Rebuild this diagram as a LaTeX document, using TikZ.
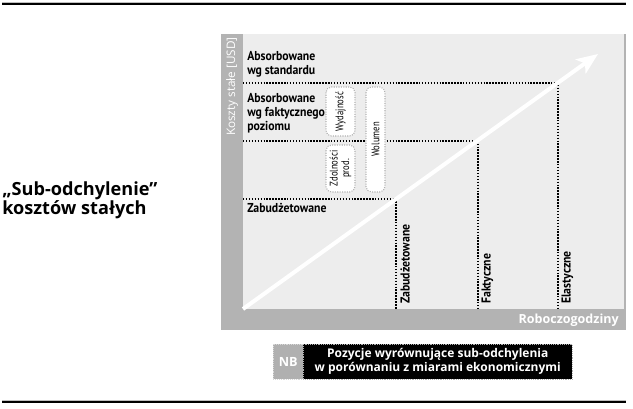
\documentclass[tikz,border=0pt]{standalone}
\usepackage{fontspec}
\setmainfont{Open Sans}
\newfontfamily\cond[FakeStretch=0.91]{PT Sans}
\newfontfamily\condn[FakeStretch=0.78]{PT Sans}
\usetikzlibrary{arrows.meta}
\definecolor{panel}{HTML}{EDEDED}
\definecolor{strip}{HTML}{B3B3B3}
\definecolor{nbgray}{HTML}{B0B0B0}
\begin{document}
\begin{tikzpicture}[x=0.75pt,y=-0.75pt,
  lbl/.style={font=\cond\bfseries\fontsize{9.7}{10.5}\selectfont, align=left, inner sep=0, anchor=north west},
  vlbl/.style={font=\cond\bfseries\fontsize{9.7}{10}\selectfont, rotate=90, anchor=west, inner sep=0},
  subbox/.style={draw=gray!60, densely dotted, line width=0.8pt, fill=white, rounded corners=4pt, rotate=90,
    font=\condn\fontsize{8.3}{8.8}\selectfont, align=center, inner sep=0},
  dotline/.style={line width=1.1pt, dash pattern=on 1.1pt off 1.1pt},
  rule/.style={line width=1.5pt, black}
]
\useasboundingbox (0,0) rectangle (633,409);
% rules
\coordinate (r1a) at (2,4.5); \coordinate (r1b) at (626,4.5);
\coordinate (r2a) at (2,402); \coordinate (r2b) at (626,402);
\draw[gray!50, line width=0.6pt] ([yshift=1.5pt]r1a) -- ([yshift=1.5pt]r1b);
\draw[rule] (r1a) -- (r1b);
\draw[gray!50, line width=0.6pt] ([yshift=1.5pt]r2a) -- ([yshift=1.5pt]r2b);
\draw[rule] (r2a) -- (r2b);
% chart background
\fill[strip] (221,34) rectangle (626,330);
\fill[panel] (243,34) rectangle (624,309);
% coordinates
\coordinate (o) at (243,309);
\coordinate (tip) at (598,54);
\coordinate (c1) at (396,199); \coordinate (l1) at (243,199); \coordinate (b1) at (396,309);
\coordinate (c2) at (478,141); \coordinate (l2) at (243,141); \coordinate (b2) at (478,309);
\coordinate (c3) at (558,83);  \coordinate (l3) at (243,83);  \coordinate (b3) at (558,309);
\draw[dotline] (l1) -- (c1) -- (b1);
\draw[dotline] (l2) -- (c2) -- (b2);
\draw[dotline] (l3) -- (c3) -- (b3);
% arrow
\draw[white, line width=3pt, -{Stealth[length=16pt,width=13pt,inset=4pt]}] (o) -- (tip);
% axis labels
\node (ylab) [rotate=90, anchor=east, inner sep=0, text=white, font=\fontsize{8.8}{9}\selectfont] at (232,37) {Koszty stałe [USD]};
\node (xlab) [anchor=east, inner sep=0, text=white, font=\bfseries\fontsize{9.4}{10}\selectfont] at (619,320) {Roboczogodziny};
% level labels
\node (a1) [lbl] at (247,51) {Absorbowane\\wg standardu};
\node (a2) [lbl] at (247,93) {Absorbowane\\wg faktycznego\\poziomu};
\node (a3) [lbl] at (247,203) {Zabudżetowane};
% sub boxes
\node (wyd) [subbox, minimum width=36.75pt, minimum height=21.75pt] at (340.5,111.5) {Wydajność};
\node (zdo) [subbox, minimum width=35.25pt, minimum height=21.75pt] at (340.5,168.5) {Zdolności\\prod.};
\node (wol) [subbox, minimum width=78.75pt, minimum height=14.25pt] at (375.5,139.5) {Wolumen};
% vertical labels
\node (v1) [vlbl] at (405,304) {Zabudżetowane};
\node (v2) [vlbl] at (487.5,304) {Faktyczne};
\node (v3) [vlbl] at (567.5,304) {Elastyczne};
% title
\node (title) [anchor=north west, align=left, inner sep=0, font=\bfseries\fontsize{13.6}{14.5}\selectfont] at (2,181) {„Sub-odchylenie”\\kosztów stałych};
% NB
\node (nb) [fill=nbgray, draw=gray!30, densely dotted, minimum width=22.5pt, minimum height=26.25pt, anchor=north west, inner sep=0, text=white, font=\bfseries\fontsize{9.5}{10}\selectfont] at (273,344) {NB};
\node (nbt) [fill=black, draw=gray!60, densely dotted, minimum width=201.75pt, minimum height=26.25pt, anchor=north west, inner sep=0, text=white, align=center, font=\bfseries\fontsize{9}{10.5}\selectfont] at (303,344) {Pozycje wyrównujące sub-odchylenia\\w porównaniu z miarami ekonomicznymi};
\end{tikzpicture}
\end{document}
